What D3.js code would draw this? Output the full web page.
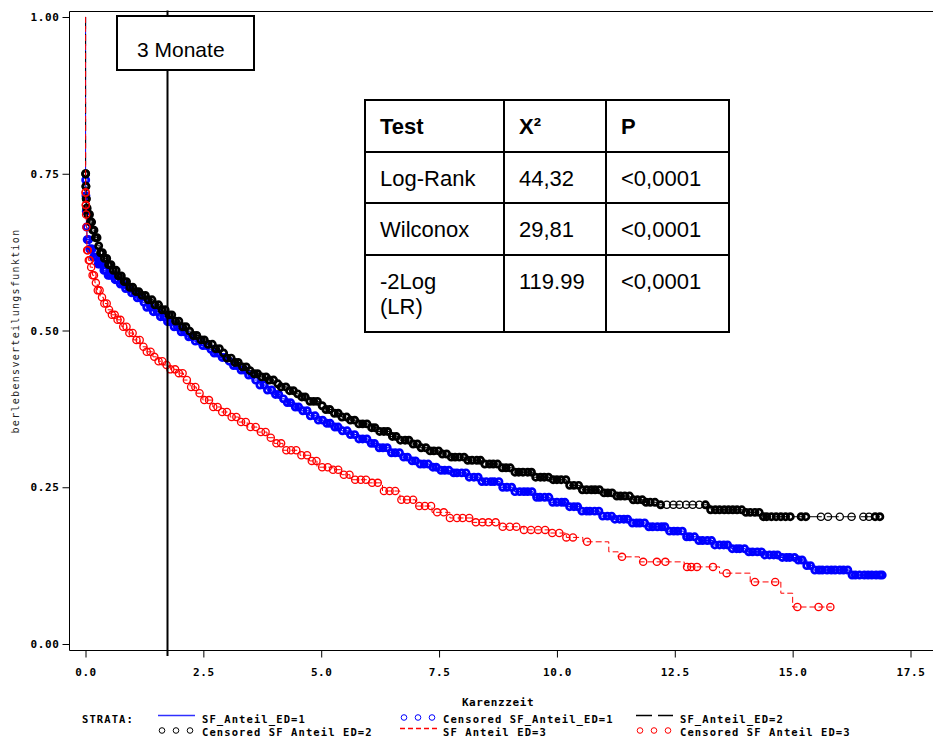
<!DOCTYPE html>
<html>
<head>
<meta charset="utf-8">
<script src="https://cdn.jsdelivr.net/npm/d3@7"></script>
<style>
  body { margin: 0; background: #fff; }
  svg { display: block; }
</style>
</head>
<body>
<svg id="chart" width="933" height="738"></svg>
<script>
// ---- axis ticks ----
const xTicks = [0, 2.5, 5, 7.5, 10, 12.5, 15, 17.5];
const yTicks = [0, 0.25, 0.5, 0.75, 1];
const xTitle = "Karenzzeit";
const yTitle = "berlebensverteilungsfunktion";

// ---- Kaplan-Meier step points [time, survival] per stratum ----
const stepsED1 = [[0,1],[0.002,0.74],[0.006,0.715],[0.012,0.69],[0.02,0.665],[0.03,0.645],[0.08,0.63],[0.16,0.617],[0.26,0.606],[0.37,0.596],[0.47,0.588],[0.58,0.581],[0.7,0.574],[0.82,0.567],[0.94,0.56],[1.06,0.552],[1.18,0.545],[1.3,0.537],[1.44,0.53],[1.58,0.522],[1.73,0.514],[1.87,0.506],[2.0,0.498],[2.15,0.49],[2.3,0.483],[2.45,0.476],[2.58,0.47],[2.7,0.464],[2.85,0.457],[3.0,0.451],[3.14,0.444],[3.28,0.437],[3.42,0.429],[3.56,0.421],[3.7,0.413],[3.85,0.405],[4.0,0.398],[4.13,0.391],[4.27,0.385],[4.4,0.378],[4.55,0.372],[4.75,0.364],[4.91,0.357],[5.08,0.352],[5.25,0.346],[5.43,0.34],[5.61,0.334],[5.8,0.327],[6.0,0.32],[6.2,0.313],[6.45,0.305],[6.67,0.298],[6.9,0.292],[7.1,0.287],[7.3,0.282],[7.5,0.277],[7.73,0.273],[8.09,0.266],[8.4,0.259],[8.79,0.25],[9.1,0.243],[9.49,0.234],[9.85,0.226],[10.2,0.219],[10.49,0.212],[10.91,0.204],[11.2,0.199],[11.55,0.193],[11.91,0.187],[12.3,0.18],[12.7,0.171],[13.0,0.165],[13.31,0.158],[13.7,0.152],[14.0,0.147],[14.37,0.142],[14.7,0.138],[15.09,0.134],[15.3,0.125],[15.43,0.118],[16.2,0.11]];
const stepsED2 = [[0,1],[0.002,0.75],[0.006,0.73],[0.012,0.71],[0.02,0.695],[0.05,0.685],[0.09,0.673],[0.14,0.66],[0.2,0.648],[0.26,0.635],[0.31,0.624],[0.4,0.615],[0.48,0.605],[0.58,0.596],[0.7,0.587],[0.82,0.578],[0.94,0.569],[1.06,0.562],[1.18,0.556],[1.3,0.549],[1.44,0.541],[1.58,0.533],[1.73,0.525],[1.87,0.515],[2.0,0.506],[2.14,0.499],[2.28,0.492],[2.43,0.485],[2.57,0.478],[2.71,0.471],[2.85,0.464],[3.0,0.456],[3.14,0.449],[3.28,0.442],[3.42,0.436],[3.56,0.431],[3.7,0.426],[3.85,0.421],[4.0,0.415],[4.13,0.41],[4.28,0.404],[4.42,0.399],[4.55,0.394],[4.75,0.387],[4.95,0.38],[5.1,0.374],[5.25,0.368],[5.43,0.362],[5.61,0.357],[5.8,0.351],[6.0,0.345],[6.2,0.339],[6.45,0.331],[6.67,0.325],[6.9,0.319],[7.1,0.313],[7.3,0.308],[7.5,0.303],[7.73,0.298],[8.09,0.293],[8.4,0.287],[8.79,0.281],[9.1,0.274],[9.49,0.266],[9.85,0.262],[10.2,0.253],[10.49,0.246],[10.91,0.241],[11.2,0.236],[11.55,0.23],[11.85,0.226],[12.12,0.222],[13.25,0.214],[14.0,0.21],[14.37,0.203]];
const stepsED3 = [[0,1],[0.002,0.72],[0.005,0.7],[0.01,0.685],[0.015,0.665],[0.03,0.628],[0.06,0.612],[0.1,0.601],[0.15,0.588],[0.2,0.576],[0.25,0.564],[0.31,0.553],[0.38,0.543],[0.46,0.533],[0.56,0.525],[0.67,0.517],[0.77,0.506],[0.88,0.496],[1.02,0.485],[1.16,0.474],[1.3,0.466],[1.43,0.458],[1.55,0.451],[1.64,0.445],[1.8,0.438],[1.94,0.432],[2.08,0.421],[2.22,0.41],[2.35,0.4],[2.49,0.389],[2.7,0.378],[2.88,0.37],[3.07,0.362],[3.25,0.354],[3.43,0.346],[3.64,0.338],[3.85,0.329],[4.0,0.32],[4.19,0.309],[4.55,0.301],[4.75,0.292],[4.91,0.282],[5.25,0.278],[5.43,0.27],[5.61,0.262],[5.97,0.257],[6.3,0.244],[6.67,0.23],[7.0,0.22],[7.35,0.21],[7.73,0.201],[8.2,0.194],[8.79,0.187],[9.3,0.182],[9.85,0.177],[10.2,0.17],[10.55,0.163],[11.1,0.147],[11.3,0.139],[11.75,0.131],[12.7,0.123],[13.45,0.113],[14.1,0.099],[14.75,0.081],[15.0,0.059]];

// ---- censored observation times per stratum ----
const censED1 = [0.004,0.009,0.016,0.024,0.035,0.05,0.068,0.09,0.115,0.14,0.17,0.2,0.235,0.27,0.31,0.345,0.39,0.43,0.48,0.52,0.57,0.63,0.68,0.74,0.8,0.85,0.92,0.98,1.05,1.1,1.17,1.24,1.3,1.38,1.44,1.52,1.59,1.66,1.74,1.8,1.88,1.95,2.03,2.1,2.19,2.26,2.33,2.42,2.49,2.57,2.66,2.73,2.8,2.9,2.97,3.05,3.14,3.21,3.3,3.37,3.46,3.54,3.61,3.7,3.79,3.86,3.95,4.03,4.1,4.2,4.28,4.35,4.45,4.52,4.61,4.7,4.77,4.87,4.94,5.03,5.12,5.19,5.29,5.36,5.45,5.55,5.62,5.71,5.8,5.88,5.97,6.06,6.13,6.23,6.31,6.4,6.49,6.57,6.66,6.75,6.83,6.93,7.0,7.1,7.18,7.27,7.37,7.44,7.54,7.62,7.71,7.81,7.88,7.98,8.07,8.14,8.24,8.33,8.41,8.5,8.6,8.67,8.77,8.85,8.94,9.04,9.11,9.21,9.3,9.38,9.47,9.57,9.64,9.74,9.83,9.91,10.0,10.1,10.17,10.27,10.36,10.44,10.53,10.63,10.7,10.8,10.89,10.97,11.07,11.16,11.23,11.33,11.42,11.5,11.6,11.69,11.76,11.86,11.95,12.03,12.13,12.22,12.29,12.39,12.48,12.56,12.66,12.75,12.82,12.92,13.01,13.09,13.19,13.28,13.35,13.45,13.54,13.62,13.72,13.81,13.88,13.98,14.07,14.15,14.25,14.34,14.41,14.51,14.6,14.68,14.78,14.87,14.94,15.04,15.12,15.2,15.3,15.38,15.47,15.56,15.63,15.73,15.82,15.9,16.0,16.08,16.17,16.26,16.33,16.42,16.52,16.6,16.68,16.77,16.85,16.9];
const censED2 = [0.003,0.004,0.008,0.01,0.014,0.018,0.025,0.035,0.05,0.065,0.085,0.105,0.13,0.155,0.18,0.21,0.245,0.28,0.32,0.36,0.4,0.45,0.49,0.54,0.59,0.65,0.7,0.76,0.82,0.87,0.94,1.0,1.07,1.13,1.2,1.27,1.33,1.41,1.47,1.55,1.62,1.69,1.77,1.83,1.91,1.98,2.06,2.13,2.21,2.29,2.36,2.45,2.52,2.6,2.69,2.76,2.84,2.93,3.0,3.09,3.17,3.24,3.33,3.41,3.49,3.58,3.65,3.74,3.83,3.9,3.99,4.08,4.15,4.25,4.33,4.41,4.5,4.59,4.66,4.76,4.84,4.92,5.02,5.1,5.18,5.28,5.36,5.44,5.54,5.62,5.71,5.8,5.88,5.97,6.07,6.14,6.24,6.33,6.41,6.51,6.59,6.68,6.78,6.86,6.95,7.04,7.12,7.22,7.31,7.39,7.49,7.57,7.66,7.76,7.84,7.93,8.03,8.11,8.2,8.3,8.38,8.47,8.57,8.65,8.74,8.84,8.92,9.01,9.11,9.19,9.28,9.38,9.46,9.55,9.65,9.73,9.82,9.92,10.0,10.09,10.19,10.27,10.36,10.46,10.54,10.63,10.73,10.81,10.9,11.0,11.08,11.17,11.27,11.35,11.44,11.54,11.62,11.71,11.81,11.89,11.98,12.08,12.2,12.33,12.47,12.6,12.74,12.88,13.02,13.15,13.26,13.36,13.45,13.55,13.64,13.73,13.82,13.92,14.01,14.1,14.2,14.29,14.38,14.45,14.55,14.65,14.75,14.85,14.95,15.18,15.28,15.6,15.75,16.0,16.25,16.5,16.62,16.75,16.85];
const censED3 = [0.002,0.004,0.007,0.009,0.013,0.02,0.035,0.05,0.07,0.09,0.12,0.15,0.18,0.22,0.26,0.3,0.35,0.4,0.45,0.5,0.56,0.62,0.68,0.74,0.8,0.87,0.93,1.0,1.08,1.15,1.23,1.3,1.38,1.46,1.55,1.63,1.72,1.8,1.9,1.98,2.06,2.15,2.24,2.33,2.42,2.52,2.62,2.71,2.8,2.9,3.0,3.1,3.2,3.3,3.4,3.5,3.61,3.72,3.82,3.93,4.05,4.15,4.26,4.36,4.47,4.58,4.7,4.8,4.9,5.02,5.14,5.25,5.36,5.48,5.6,5.72,5.84,5.95,6.08,6.2,6.33,6.45,6.57,6.7,6.82,6.95,7.08,7.2,7.33,7.46,7.6,7.73,7.88,8.0,8.14,8.28,8.42,8.55,8.7,8.85,9.0,9.14,9.3,9.45,9.6,9.75,9.9,10.05,10.2,10.34,10.64,11.38,11.83,12.12,12.3,12.76,12.85,12.97,13.31,13.6,14.2,14.63,15.1,15.55,15.8];

// last follow-up time per stratum (curve ends here)
const endTimes = [16.9, 16.85, 15.83];

// ---- test statistics table ----
const tableHeader = ["Test", "X\u00B2", "P"];
const tableRows = [
  ["Log-Rank", "44,32", "<0,0001"],
  ["Wilconox", "29,81", "<0,0001"],
  ["-2Log\n(LR)", "119.99", "<0,0001"]
];

// ---- vertical marker ----
const markerTime = 1.72;
const markerLabel = "3 Monate";

// ---- legend ----
const legendTitle = "STRATA:";
const legendRow1 = ["SF_Anteil_ED=1", "Censored SF_Anteil_ED=1", "SF_Anteil_ED=2"];
const legendRow2 = ["Censored SF Anteil ED=2", "SF Anteil ED=3", "Censored SF Anteil ED=3"];

// ================= drawing =================
const svg = d3.select("#chart");
const MONO = "'DejaVu Sans Mono', monospace";
const SANS = "'Liberation Sans', Arial, sans-serif";

const x = d3.scaleLinear().domain([0, 17.5]).range([85.5, 910.5]);
const y = d3.scaleLinear().domain([0, 1]).range([644, 17]);

const axisLeftX = 69.5, axisBottomY = 650.5, frameTopY = 11.5;

// frame
svg.append("line").attr("x1", axisLeftX).attr("x2", axisLeftX).attr("y1", frameTopY).attr("y2", axisBottomY)
  .attr("stroke", "#000").attr("stroke-width", 1);
svg.append("line").attr("x1", axisLeftX).attr("x2", 933).attr("y1", frameTopY).attr("y2", frameTopY)
  .attr("stroke", "#000").attr("stroke-width", 1);
svg.append("line").attr("x1", axisLeftX).attr("x2", 933).attr("y1", axisBottomY).attr("y2", axisBottomY)
  .attr("stroke", "#000").attr("stroke-width", 1);

// y axis
const gy = svg.append("g").attr("transform", `translate(${axisLeftX},0)`)
  .call(d3.axisLeft(y).tickValues(yTicks).tickSize(7).tickPadding(3).tickFormat(d3.format(".2f")));
gy.select(".domain").remove();
gy.selectAll("text").attr("font-family", MONO).attr("font-size", 11).attr("font-weight", "bold")
  .attr("letter-spacing", 0.6).attr("fill", "#000");

// x axis
const gx = svg.append("g").attr("transform", `translate(0,${axisBottomY})`)
  .call(d3.axisBottom(x).tickValues(xTicks).tickSize(7).tickPadding(10.5).tickFormat(d3.format(".1f")));
gx.select(".domain").remove();
gx.selectAll("text").attr("font-family", MONO).attr("font-size", 11).attr("font-weight", "bold")
  .attr("letter-spacing", 0.6).attr("fill", "#000");

// axis titles
svg.append("text").attr("x", (x(0) + x(17.5)) / 2).attr("y", 706)
  .attr("text-anchor", "middle").attr("font-family", MONO).attr("font-size", 11).attr("font-weight", "bold")
  .attr("letter-spacing", 0.6).text(xTitle);
svg.append("text").attr("transform", `translate(19,${(frameTopY + axisBottomY) / 2}) rotate(-90)`)
  .attr("text-anchor", "middle").attr("font-family", MONO).attr("font-size", 10)
  .attr("letter-spacing", 1.3).attr("fill", "#222").text(yTitle);

// curves: step line plus open circles at censored times
// (crowded markers get a heavier ring, as on the printed plot)
const strata = [
  { steps: stepsED1, cens: censED1, end: endTimes[0], color: "#0000ff", dash: null, dense: true },
  { steps: stepsED2, cens: censED2, end: endTimes[1], color: "#000000", dash: "12,5", dense: true },
  { steps: stepsED3, cens: censED3, end: endTimes[2], color: "#ff0000", dash: "6,3", dense: false }
];

const line = d3.line().x(d => x(d[0])).y(d => y(d[1])).curve(d3.curveStepAfter);

strata.forEach(s => {
  const times = s.steps.map(d => d[0]);
  const survAt = t => s.steps[Math.max(0, d3.bisectRight(times, t) - 1)][1];
  const pts = s.steps.concat([[s.end, s.steps[s.steps.length - 1][1]]]);
  const g = svg.append("g");
  g.append("path").attr("d", line(pts)).attr("fill", "none").attr("stroke", s.color)
    .attr("stroke-width", 1).attr("stroke-dasharray", s.dash);
  const crowded = (t, i) => {
    const prev = i > 0 ? t - s.cens[i - 1] : Infinity;
    const next = i < s.cens.length - 1 ? s.cens[i + 1] - t : Infinity;
    return s.dense && Math.min(prev, next) < 0.12;
  };
  g.selectAll("circle").data(s.cens).join("circle")
    .attr("cx", t => x(t)).attr("cy", t => y(survAt(t)))
    .attr("r", (t, i) => crowded(t, i) ? 3.1 : 3.6)
    .attr("fill", "none").attr("stroke", s.color)
    .attr("stroke-width", (t, i) => crowded(t, i) ? 2.7 : 1.3);
});

// vertical marker with label box
const mx = Math.round(x(markerTime)) + 0.5;
svg.append("line").attr("x1", mx).attr("x2", mx).attr("y1", frameTopY - 1).attr("y2", 656)
  .attr("stroke", "#000").attr("stroke-width", 2);
svg.append("rect").attr("x", 117).attr("y", 16).attr("width", 137).attr("height", 54)
  .attr("fill", "#fff").attr("stroke", "#000").attr("stroke-width", 2);
svg.append("text").attr("x", 137).attr("y", 57).attr("font-family", SANS).attr("font-size", 21)
  .attr("fill", "#000").text(markerLabel);

// statistics table
const colEdges = [365, 504, 606, 729];
const rowEdges = [100, 152, 203, 255, 332];
const tg = svg.append("g");
tg.append("rect").attr("x", colEdges[0]).attr("y", rowEdges[0])
  .attr("width", colEdges[3] - colEdges[0]).attr("height", rowEdges[4] - rowEdges[0])
  .attr("fill", "#fff").attr("stroke", "#000").attr("stroke-width", 2);
colEdges.slice(1, 3).forEach(cx => tg.append("line").attr("x1", cx).attr("x2", cx)
  .attr("y1", rowEdges[0]).attr("y2", rowEdges[4]).attr("stroke", "#000").attr("stroke-width", 2));
rowEdges.slice(1, 4).forEach(ry => tg.append("line").attr("x1", colEdges[0]).attr("x2", colEdges[3])
  .attr("y1", ry).attr("y2", ry).attr("stroke", "#000").attr("stroke-width", 2));
[tableHeader].concat(tableRows).forEach((row, ri) => {
  row.forEach((cell, ci) => {
    const t = tg.append("text").attr("x", colEdges[ci] + 15).attr("y", rowEdges[ri] + 34)
      .attr("font-family", SANS).attr("font-size", 22).attr("fill", "#000")
      .attr("font-weight", ri === 0 ? "bold" : "normal");
    cell.split("\n").forEach((ln, li) => {
      t.append("tspan").attr("x", colEdges[ci] + 15).attr("dy", li === 0 ? 0 : 25).text(ln);
    });
  });
});

// legend
const lg = svg.append("g").attr("font-family", MONO).attr("font-size", 10.5).attr("font-weight", "bold")
  .attr("letter-spacing", 1.1).attr("fill", "#000");
const rowBase = [722.5, 735.5];
lg.append("text").attr("x", 82).attr("y", rowBase[0]).text(legendTitle);
const colSym = [158, 400, 636], colText = [202, 443, 680];
const legendItems = [
  { row: 0, col: 0, kind: "line", color: "#3030ff", dash: null, label: legendRow1[0] },
  { row: 0, col: 1, kind: "circ", color: "#0000ff", label: legendRow1[1] },
  { row: 0, col: 2, kind: "line", color: "#000000", dash: "16,6", label: legendRow1[2] },
  { row: 1, col: 0, kind: "circ", color: "#000000", label: legendRow2[0] },
  { row: 1, col: 1, kind: "line", color: "#ff0000", dash: "5,3", label: legendRow2[1] },
  { row: 1, col: 2, kind: "circ", color: "#ff0000", label: legendRow2[2] }
];
legendItems.forEach(it => {
  const sx = colSym[it.col], base = rowBase[it.row];
  if (it.kind === "line") {
    lg.append("line").attr("x1", sx).attr("x2", sx + 37).attr("y1", base - 7).attr("y2", base - 7)
      .attr("stroke", it.color).attr("stroke-width", 1.3).attr("stroke-dasharray", it.dash);
  } else {
    [4, 18, 32].forEach(dx => lg.append("circle").attr("cx", sx + dx).attr("cy", base - 5).attr("r", 2.8)
      .attr("fill", "none").attr("stroke", it.color).attr("stroke-width", 1));
  }
  lg.append("text").attr("x", colText[it.col]).attr("y", base).text(it.label);
});
</script>
</body>
</html>
